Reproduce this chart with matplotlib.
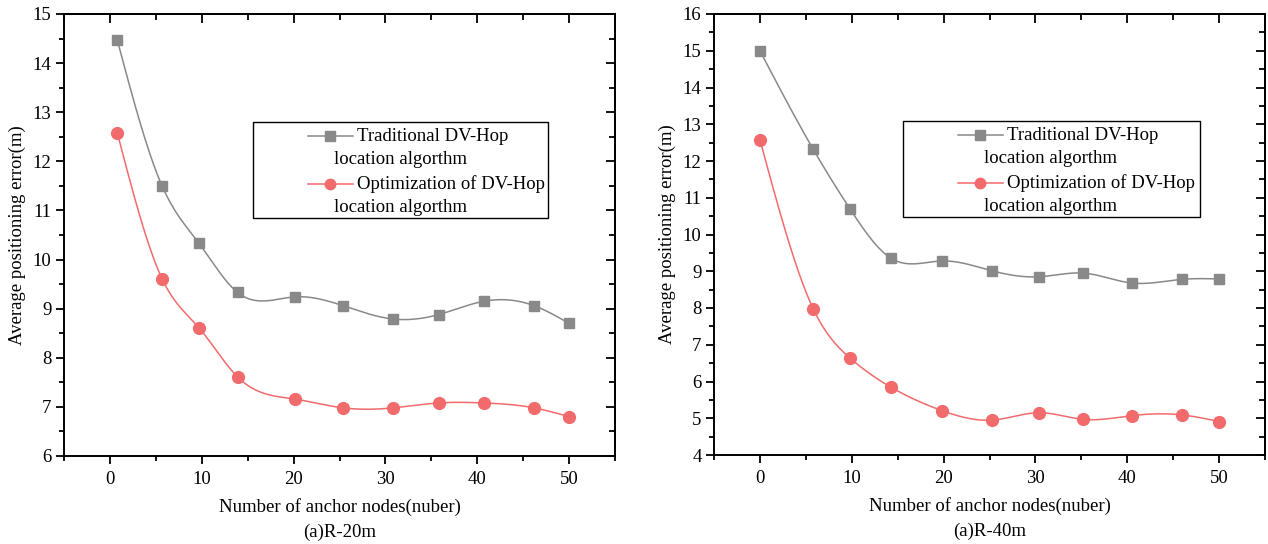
import numpy as np
import matplotlib
matplotlib.use("Agg")
from matplotlib import pyplot as plt
from matplotlib.ticker import MultipleLocator, NullFormatter
from matplotlib.lines import Line2D
from matplotlib.patches import Rectangle

# data
x_20 = [0.8, 5.7, 9.7, 13.9, 20.1, 25.4, 30.8, 35.8, 40.7, 46.2, 50.0]
trad_20 = [14.47, 11.49, 10.33, 9.33, 9.24, 9.06, 8.79, 8.88, 9.15, 9.06, 8.70]
opt_20 = [12.58, 9.60, 8.61, 7.61, 7.16, 6.98, 6.98, 7.08, 7.08, 6.98, 6.80]

x_40 = [0.0, 5.8, 9.8, 14.3, 19.8, 25.3, 30.4, 35.2, 40.5, 46.0, 50.0]
trad_40 = [15.0, 12.32, 10.70, 9.35, 9.28, 9.01, 8.85, 8.95, 8.68, 8.78, 8.79]
opt_40 = [12.58, 7.98, 6.64, 5.84, 5.21, 4.95, 5.15, 4.97, 5.07, 5.09, 4.91]

labels = [("Traditional DV-Hop", "location algorthm"),
          ("Optimization of DV-Hop", "location algorthm")]
subtitles = ["(a)R-20m", "(a)R-40m"]

GRAY = "#898989"
RED = "#F26B6C"
FS = 13.5

plt.rcParams["font.family"] = ["Liberation Serif", "DejaVu Serif"]
plt.rcParams["font.size"] = FS


def natural_spline(x, y, n=400):
    # natural cubic spline through the points, used only to draw the smooth line
    x = np.asarray(x, float)
    y = np.asarray(y, float)
    m = len(x)
    h = np.diff(x)
    A = np.zeros((m, m))
    b = np.zeros(m)
    A[0, 0] = A[-1, -1] = 1
    for i in range(1, m - 1):
        A[i, i - 1] = h[i - 1]
        A[i, i] = 2 * (h[i - 1] + h[i])
        A[i, i + 1] = h[i]
        b[i] = 6 * ((y[i + 1] - y[i]) / h[i] - (y[i] - y[i - 1]) / h[i - 1])
    M = np.linalg.solve(A, b)
    xs = np.linspace(x[0], x[-1], n)
    idx = np.clip(np.searchsorted(x, xs) - 1, 0, m - 2)
    x0, x1 = x[idx], x[idx + 1]
    hh = x1 - x0
    ys = (M[idx] * (x1 - xs) ** 3 / (6 * hh) + M[idx + 1] * (xs - x0) ** 3 / (6 * hh)
          + (y[idx] / hh - M[idx] * hh / 6) * (x1 - xs)
          + (y[idx + 1] / hh - M[idx + 1] * hh / 6) * (xs - x0))
    return xs, ys


def draw(ax, x, trad, opt, ylim, sub, box):
    for yv, col, mk, ms in [(trad, GRAY, "s", 7.5), (opt, RED, "o", 8.5)]:
        xs, ys = natural_spline(x, yv)
        ax.plot(xs, ys, color=col, lw=1.1, zorder=2)
        ax.plot(x, yv, ls="none", marker=mk, ms=ms, color=col, mec=col, zorder=3)

    ax.set_xlim(-5, 55)
    ax.set_ylim(*ylim)
    ax.xaxis.set_major_locator(MultipleLocator(10))
    ax.xaxis.set_minor_locator(MultipleLocator(5))
    ax.yaxis.set_major_locator(MultipleLocator(1))
    ax.yaxis.set_minor_locator(MultipleLocator(0.5))
    # outward ticks on bottom/left
    ax.tick_params(which="both", direction="out", width=1.3, labelsize=FS)
    ax.tick_params(which="major", length=6)
    ax.tick_params(which="minor", length=3.5)
    ax.tick_params(axis="x", pad=5)
    ax.tick_params(axis="y", pad=3)
    for s in ax.spines.values():
        s.set_linewidth(1.4)

    # inward ticks on top/right
    sec_x = ax.secondary_xaxis("top")
    sec_y = ax.secondary_yaxis("right")
    sec_x.xaxis.set_major_locator(MultipleLocator(10))
    sec_x.xaxis.set_minor_locator(MultipleLocator(5))
    sec_y.yaxis.set_major_locator(MultipleLocator(1))
    sec_y.yaxis.set_minor_locator(MultipleLocator(0.5))
    sec_x.xaxis.set_major_formatter(NullFormatter())
    sec_y.yaxis.set_major_formatter(NullFormatter())
    for sec in (sec_x, sec_y):
        sec.tick_params(which="both", direction="in", width=1.3)
        sec.tick_params(which="major", length=6.5)
        sec.tick_params(which="minor", length=4.5)
        for s in sec.spines.values():
            s.set_linewidth(1.4)

    ax.set_xlabel("Number of anchor nodes(nuber)", fontsize=FS, labelpad=7)
    ax.set_ylabel("Average positioning error(m)", fontsize=FS, labelpad=5)
    ax.text(0.5, -0.172, sub, transform=ax.transAxes, ha="center", va="center", fontsize=FS)

    # legend box drawn by hand to keep the wrapped labels
    bx0, by0, bx1, by1 = box
    ax.add_patch(Rectangle((bx0, by0), bx1 - bx0, by1 - by0, transform=ax.transAxes,
                           fill=False, ec="black", lw=1.0, zorder=5))
    lh = (by1 - by0) / 4
    for k, (col, mk, ms, (l1, l2)) in enumerate([(GRAY, "s", 6.5, labels[0]), (RED, "o", 7.5, labels[1])]):
        yl1 = by1 - lh * (2 * k + 0.6)
        yl2 = by1 - lh * (2 * k + 1.55)
        ax.add_line(Line2D([bx0 + 0.1, bx0 + 0.181], [yl1, yl1], transform=ax.transAxes,
                           color=col, lw=1.1, zorder=6))
        ax.add_line(Line2D([bx0 + 0.139], [yl1], transform=ax.transAxes, marker=mk, ms=ms,
                           color=col, ls="none", zorder=6))
        ax.text(bx0 + 0.188, yl1, l1, transform=ax.transAxes, va="center", ha="left", fontsize=FS)
        ax.text(bx0 + 0.147, yl2, l2, transform=ax.transAxes, va="center", ha="left", fontsize=FS)


fig = plt.figure(figsize=(12.68, 5.44), dpi=100)
ax1 = fig.add_axes([64 / 1268, 1 - 456 / 544, 551 / 1268, 442 / 544])
ax2 = fig.add_axes([714 / 1268, 1 - 455 / 544, 551 / 1268, 441 / 544])

draw(ax1, x_20, trad_20, opt_20, (6, 15), subtitles[0],
     ((253 - 64) / 551, (456 - 218) / 442, (548 - 64) / 551, (456 - 122) / 442))
draw(ax2, x_40, trad_40, opt_40, (4, 16), subtitles[1],
     ((903 - 714) / 551, (455 - 217) / 441, (1200 - 714) / 551, (455 - 121) / 441))

fig.savefig("out.png", dpi=100)
